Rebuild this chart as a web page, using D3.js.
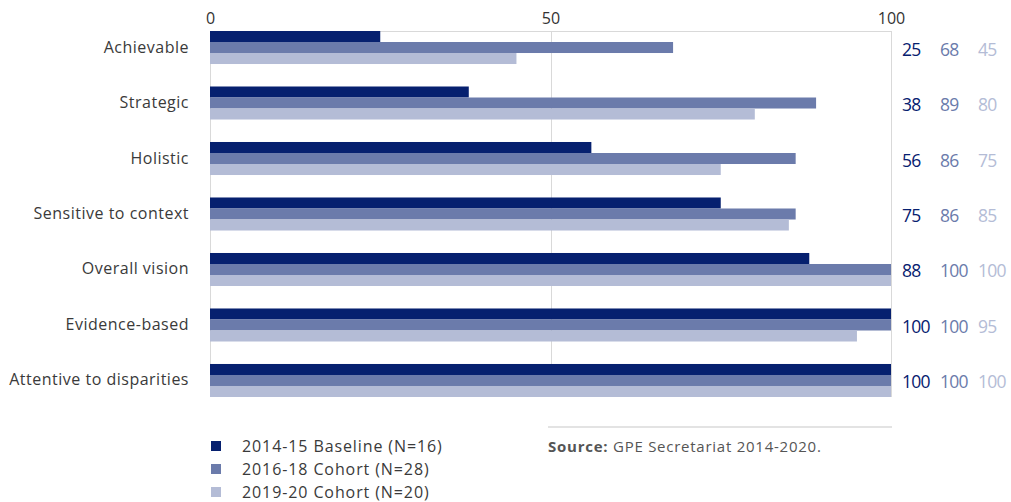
<!DOCTYPE html>
<html>
<head>
<meta charset="utf-8">
<script src="https://cdn.jsdelivr.net/npm/d3@7"></script>
<style>
  html, body { margin: 0; padding: 0; background: #ffffff; }
  svg { display: block; font-family: "Open Sans", "Noto Sans", sans-serif; }
</style>
</head>
<body>
<svg id="chart" width="1011" height="502"></svg>
<script>
// Plan quality standards, share of plans meeting each standard (%)
const categories = ["Achievable", "Strategic", "Holistic", "Sensitive to context",
                    "Overall vision", "Evidence-based", "Attentive to disparities"];
const seriesNames = ["2014-15 Baseline (N=16)", "2016-18 Cohort (N=28)", "2019-20 Cohort (N=20)"];
const baseline2014 = [25, 38, 56, 75, 88, 100, 100];
const cohort2016 = [68, 89, 86, 86, 100, 100, 100];
const cohort2019 = [45, 80, 75, 85, 100, 95, 100];
const tickValues = [0, 50, 100];
const colors = ["#06206f", "#6b7bab", "#b4bcd6"];
const seriesValues = [baseline2014, cohort2016, cohort2019];

const svg = d3.select("#chart");

const x = d3.scaleLinear().domain([0, 100]).range([210, 891]);
const y = d3.scaleBand().domain(categories).range([31, 397]).paddingInner(0.405).paddingOuter(0);
const ySub = d3.scaleBand().domain(d3.range(seriesNames.length)).range([0, y.bandwidth()]);

// gridlines + top frame line
const grid = svg.append("g");
grid.selectAll("line.v").data(tickValues).join("line")
  .attr("x1", d => Math.round(x(d)) + 0.5).attr("x2", d => Math.round(x(d)) + 0.5)
  .attr("y1", 31).attr("y2", 397)
  .attr("stroke", "#d9d9d9").attr("stroke-width", 1);
grid.append("line")
  .attr("x1", x(0)).attr("x2", x(100) + 1)
  .attr("y1", 31.5).attr("y2", 31.5)
  .attr("stroke", "#d9d9d9");

// top axis labels
const axis = d3.axisTop(x).tickValues(tickValues).tickSize(0).tickPadding(0);
const axisG = svg.append("g").attr("transform", "translate(0,24)").call(axis);
axisG.select(".domain").remove();
axisG.selectAll("text")
  .attr("font-size", 16).attr("fill", "#333333")
  .attr("font-family", "'Open Sans', sans-serif");

// bars
const groups = svg.append("g").selectAll("g").data(categories).join("g")
  .attr("transform", d => `translate(0,${y(d)})`);
groups.selectAll("rect").data((d, i) => seriesValues.map((s, k) => ({ k, v: s[i] })))
  .join("rect")
  .attr("x", x(0))
  .attr("y", d => ySub(d.k))
  .attr("width", d => x(d.v) - x(0))
  .attr("height", ySub.bandwidth())
  .attr("fill", d => colors[d.k]);

// category labels
svg.append("g").selectAll("text").data(categories).join("text")
  .attr("x", 189)
  .attr("y", d => y(d) + y.bandwidth() / 2 - 1)
  .attr("text-anchor", "end")
  .attr("dominant-baseline", "central")
  .attr("font-size", 16)
  .attr("letter-spacing", 0.5)
  .attr("fill", "#3a3a3a")
  .text(d => d);

// value labels on the right
const labelX = [902, 940, 978];
const valG = svg.append("g");
categories.forEach((c, i) => {
  seriesValues.forEach((s, k) => {
    valG.append("text")
      .attr("x", labelX[k])
      .attr("y", y(c) + y.bandwidth() / 2 + 1)
      .attr("dominant-baseline", "central")
      .attr("font-size", 17.5)
      .attr("letter-spacing", -0.7)
      .attr("fill", colors[k])
      .text(s[i]);
  });
});

// legend
const legend = svg.append("g").selectAll("g").data(seriesNames).join("g")
  .attr("transform", (d, i) => `translate(211,${446 + i * 23})`);
legend.append("rect")
  .attr("x", 0).attr("y", -5).attr("width", 10).attr("height", 10)
  .attr("fill", (d, i) => colors[i]);
legend.append("text")
  .attr("x", 31).attr("y", 0)
  .attr("dominant-baseline", "central")
  .attr("font-size", 16)
  .attr("letter-spacing", 0.9)
  .attr("fill", "#3a3a3a")
  .text(d => d);

// source note
svg.append("line")
  .attr("x1", 548).attr("x2", 892).attr("y1", 427).attr("y2", 427)
  .attr("stroke", "#e3e3e3").attr("stroke-width", 2);
const src = svg.append("text")
  .attr("x", 548).attr("y", 446)
  .attr("dominant-baseline", "central")
  .attr("font-size", 15)
  .attr("letter-spacing", 0.75)
  .attr("fill", "#555555");
src.append("tspan").attr("font-weight", 700).text("Source:");
src.append("tspan").text(" GPE Secretariat 2014-2020.");
</script>
</body>
</html>
